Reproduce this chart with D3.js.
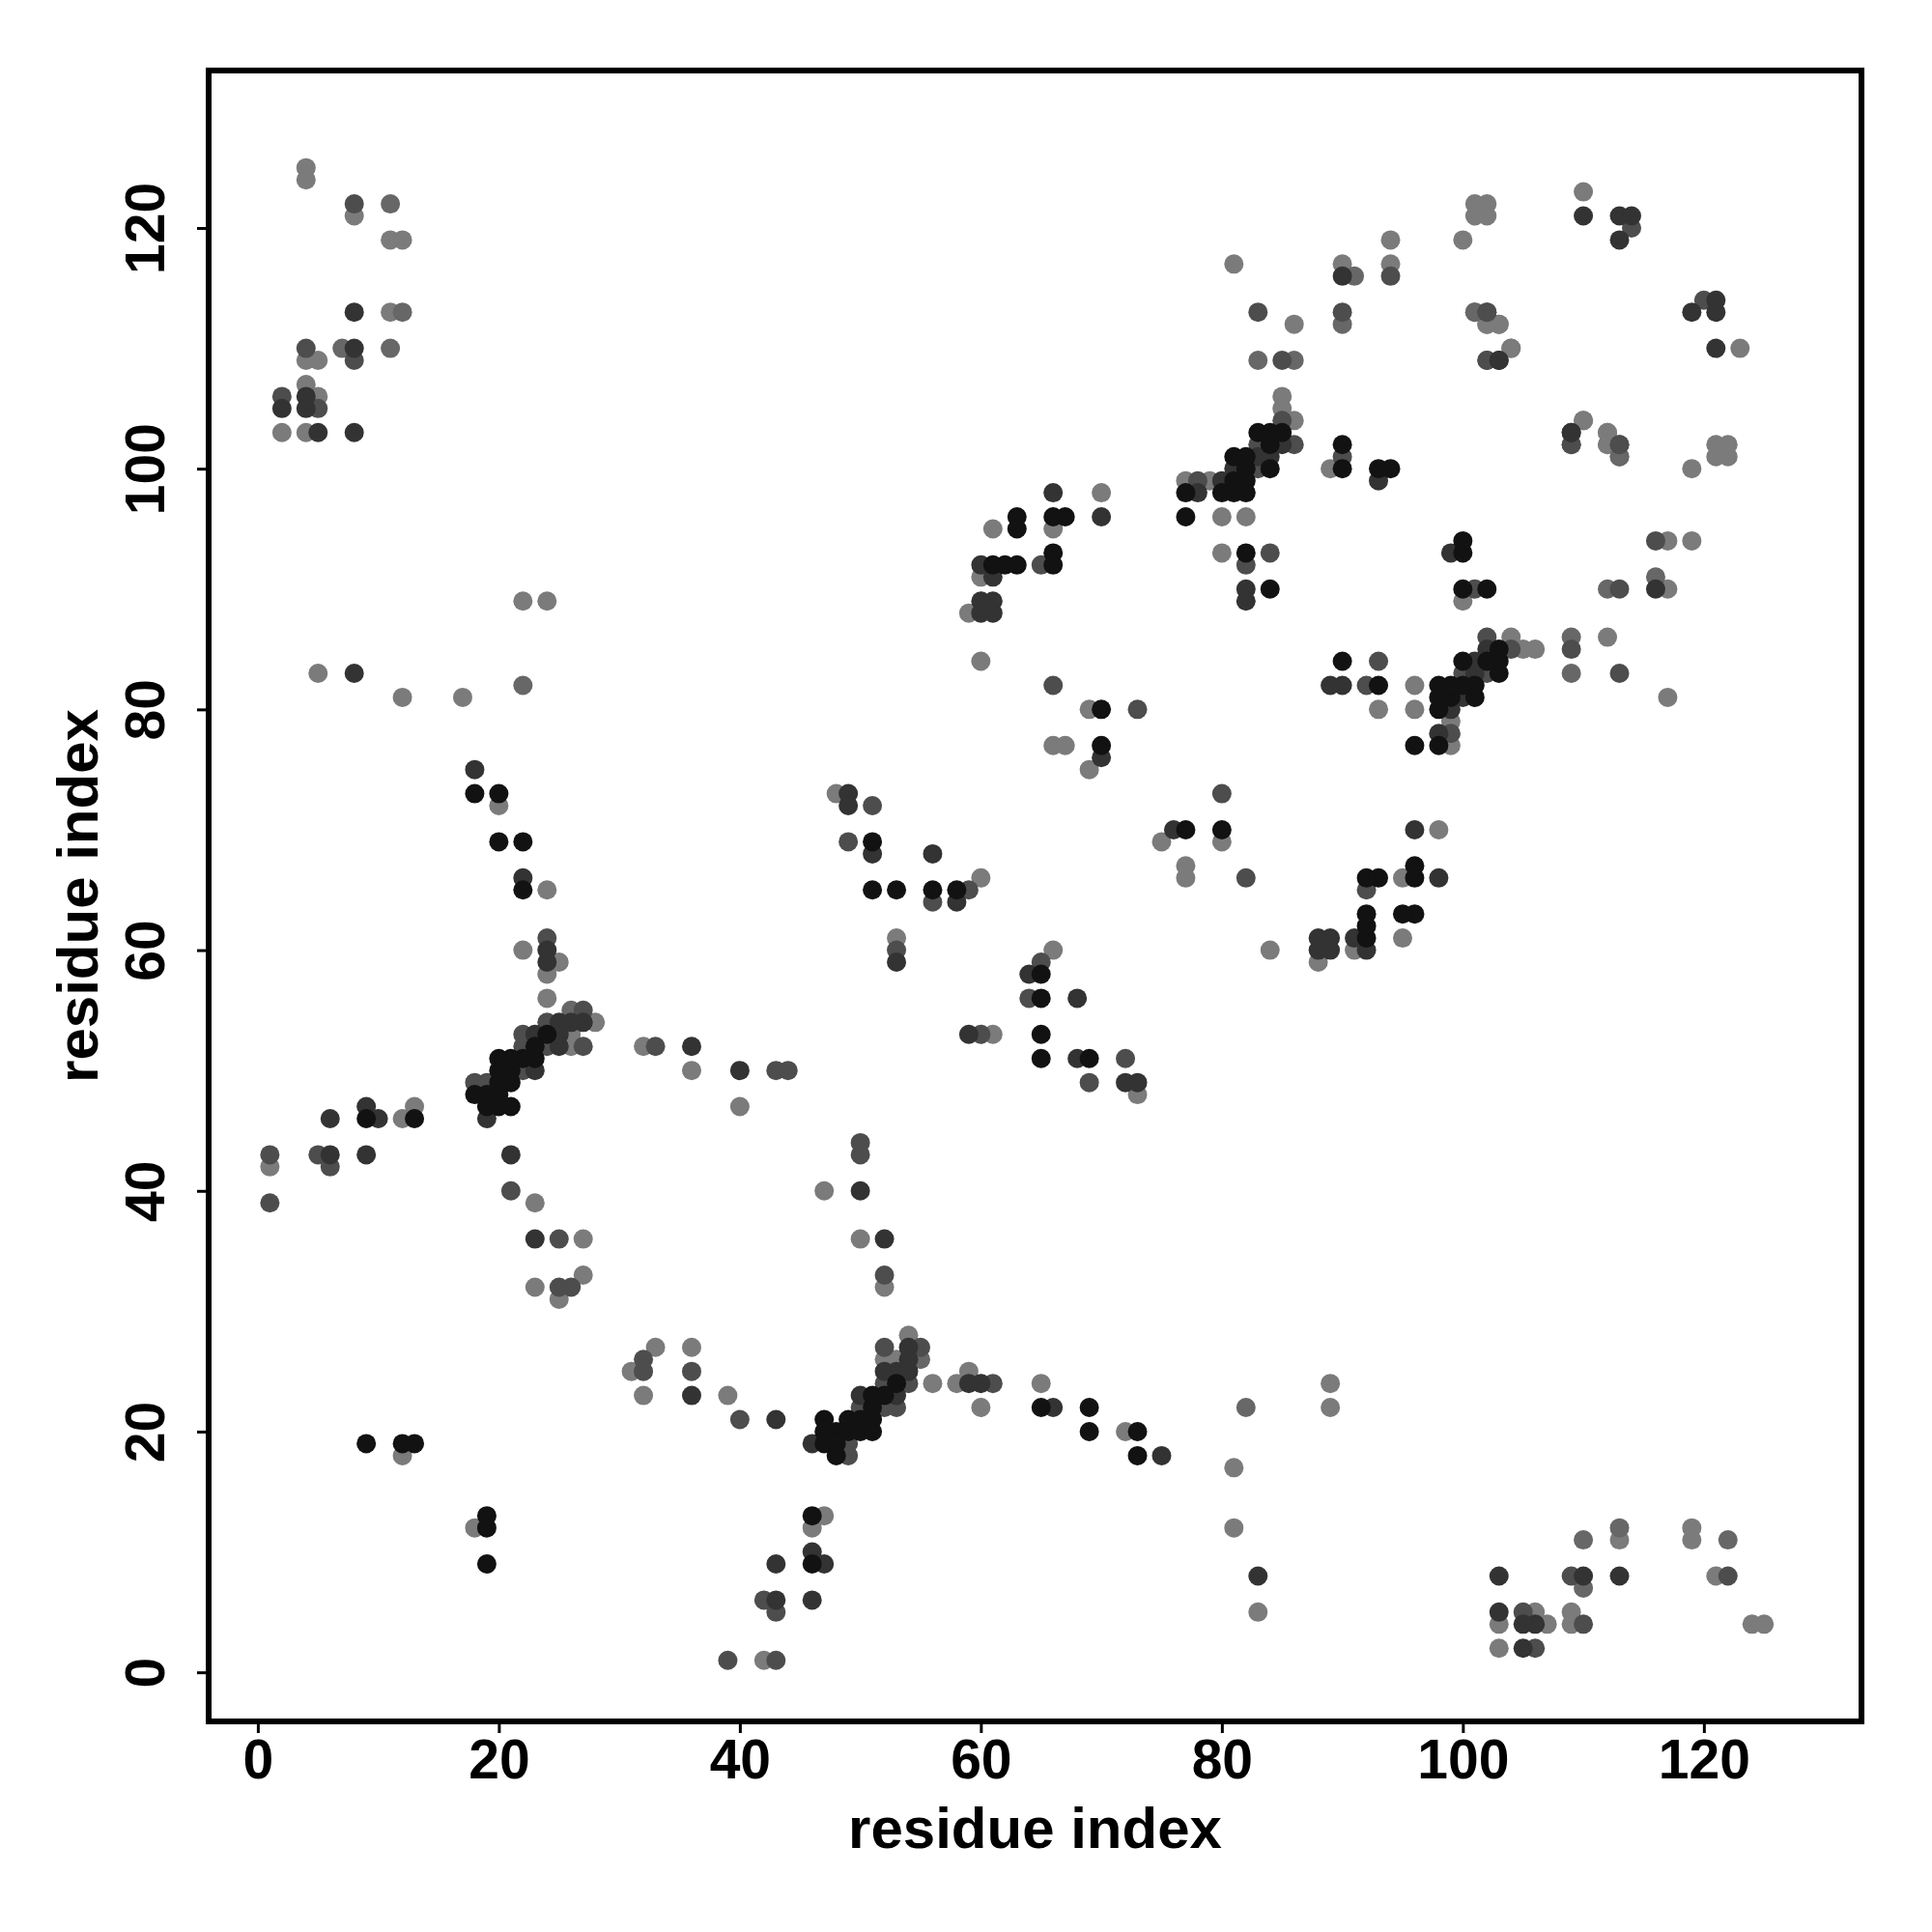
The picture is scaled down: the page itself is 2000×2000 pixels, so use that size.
<!DOCTYPE html>
<html>
<head>
<meta charset="utf-8">
<script src="https://cdn.jsdelivr.net/npm/d3@7/dist/d3.min.js"></script>
<style>
  html, body { margin: 0; padding: 0; background: #ffffff; }
  svg { display: block; }
</style>
</head>
<body>
<svg id="chart" width="2000" height="2000"></svg>
<script>
// ---- DATA: predicted residue contacts (i < j), drawn at (i,j) and (j,i) ----
// shade / probability levels (0 = light gray, 1 = black)
const residueI = [
  // top-left block
  4,4,8,8,11,11,12,8,11,12,4,4,5,7,8,8,11,4,2,4,5,2,4,5,2,4,5,8,
  // isolated 81-89
  5,8,12,17,22,22,24,
  // column 18-25
  18,18,20,20,20,22,22,22,24,24,22,24,25,24,24,24,
  // diagonal cluster 18-28 x 46-55
  28,27,27,27,26,26,26,26,25,25,25,24,24,24,23,23,23,23,22,22,22,22,21,21,21,21,20,20,20,20,20,19,19,19,19,18,18,
  // 1-27 x 18-47
  23,25,27,23,25,26,25,27,23,21,21,6,9,9,10,12,13,13,1,5,6,9,1,6,1,9,12,13,12,
  // 32-44 x 47-52
  32,33,36,36,40,43,44,40,
  // 48-60 x 59-73
  48,49,49,51,49,51,51,56,51,53,56,56,58,58,59,60,53,53,53,
  // 59-70 x 84-98
  66,70,63,66,67,70,61,63,66,66,65,66,60,61,62,63,60,61,60,61,59,60,61,60,
  // 66-73 x 75-82
  66,69,70,66,67,70,70,69,73,
  // diagonal cluster 77-86 x 96-106
  85,85,85,86,83,84,85,83,84,85,86,81,82,83,84,81,82,83,84,77,78,79,80,81,82,77,78,80,81,82,77,80,82,
  // 80-94 x 89-102
  82,80,84,82,82,84,82,90,90,90,89,93,94,93,
  // upper right
  81,90,90,91,94,94,94,100,101,102,101,102,83,86,90,90,101,102,102,103,104,102,103,83,85,86,110,110,113,114,114,113,110,109,109,112,112,113,113
];
const residueJ = [
  125,124,122,121,122,119,119,113,113,113,110,109,109,110,110,109,110,107,106,106,106,105,105,105,103,103,103,103,
  83,83,81,81,82,89,89,
  75,73,73,72,69,69,66,65,65,61,60,60,59,59,58,56,
  54,52,54,55,52,53,54,55,52,53,54,52,53,54,50,51,52,53,50,51,52,53,47,49,50,51,47,48,49,50,51,46,47,48,49,48,49,
  36,36,36,32,32,32,31,33,39,40,43,46,47,46,46,46,47,46,43,43,43,43,42,42,39,19,19,19,18,
  52,52,52,50,50,50,50,47,
  73,73,72,72,69,69,68,68,65,65,65,64,65,64,65,66,61,60,59,
  98,98,96,96,96,96,95,95,95,93,92,92,92,92,92,92,91,91,89,89,88,88,88,84,
  82,80,80,77,77,77,76,75,80,
  106,105,104,104,103,103,103,102,102,102,102,101,101,101,101,100,100,100,100,99,99,99,99,99,99,98,98,98,98,98,96,96,96,
  93,93,93,92,90,90,89,102,101,100,100,100,100,99,
  117,117,116,116,117,116,119,119,122,122,121,121,113,112,113,112,113,113,112,112,110,109,109,109,109,109,123,121,121,121,120,119,104,103,102,103,102,102,101
];
const contactProb = [
  .1,.1,.45,.1,.25,.1,.1,.65,.1,.25,.45,.1,.1,.25,.65,.45,.25,.1,.45,.65,.1,.65,.65,.45,.1,.1,.65,.65,
  .1,.65,.1,.1,.25,.1,.1,
  .65,.9,.9,.1,.9,.9,.65,.9,.1,.45,.1,.65,.1,.65,.1,.1,
  .1,.45,.65,.45,.1,.1,.65,.25,.65,.65,.65,.45,.9,.45,.65,.9,.9,.65,.45,.9,.45,.45,.9,.9,.9,.9,.9,.9,.9,.9,.9,.65,.9,.9,.45,.9,.45,
  .65,.45,.1,.1,.45,.45,.1,.1,.1,.45,.65,.65,.65,.9,.65,.1,.1,.9,.45,.45,.65,.65,.1,.45,.45,.9,.9,.9,.1,
  .1,.45,.65,.1,.65,.45,.45,.1,
  .1,.65,.65,.45,.45,.9,.65,.65,.9,.9,.9,.45,.9,.65,.45,.1,.1,.45,.65,
  .65,.1,.9,.9,.9,.65,.1,.9,.1,.9,.45,.9,.65,.9,.9,.9,.1,.65,.65,.65,.1,.65,.65,.1,
  .45,.1,.9,.1,.1,.9,.65,.1,.45,
  .1,.1,.45,.1,.9,.9,.9,.45,.9,.65,.45,.9,.9,.65,.65,.65,.9,.45,.9,.1,.45,.1,.65,.9,.9,.9,.65,.9,.9,.9,.9,.1,.1,
  .9,.1,.45,.45,.65,.9,.65,.9,.45,.9,.1,.9,.9,.65,
  .1,.1,.65,.25,.1,.45,.1,.1,.1,.1,.1,.1,.45,.1,.45,.25,.25,.45,.1,.1,.1,.45,.65,.25,.45,.25,.1,.65,.65,.65,.45,.65,.1,.65,.45,.1,.1,.45,.1
];
const xTickValues = [0, 20, 40, 60, 80, 100, 120];
const yTickValues = [0, 20, 40, 60, 80, 100, 120];
const xTitle = "residue index";
const yTitle = "residue index";

// ---- LAYOUT ----
const svg = d3.select("#chart");
const plotLeft = 216, plotRight = 1927, plotTop = 73, plotBottom = 1782;
const FONT = "'Liberation Sans', Arial, Helvetica, sans-serif";

const x = d3.scaleLinear().domain([-4.08, 133.08]).range([plotLeft, plotRight]);
const y = d3.scaleLinear().domain([-4.08, 133.08]).range([plotBottom, plotTop]);
const shade = d3.scaleLinear().domain([0, 1]).range(["#888888", "#050505"]);

// points: each contact drawn in both triangles
const pts = [];
residueI.forEach((ri, k) => {
  const rj = residueJ[k], p = contactProb[k];
  pts.push({ a: ri, b: rj, p });
  pts.push({ a: rj, b: ri, p });
});
pts.sort((u, v) => u.p - v.p);

svg.append("g")
  .selectAll("circle")
  .data(pts)
  .join("circle")
  .attr("cx", d => x(d.a))
  .attr("cy", d => y(d.b))
  .attr("r", 10)
  .attr("fill", d => shade(d.p));

// frame
svg.append("rect")
  .attr("x", plotLeft).attr("y", plotTop)
  .attr("width", plotRight - plotLeft).attr("height", plotBottom - plotTop)
  .attr("fill", "none").attr("stroke", "#000").attr("stroke-width", 6);

// axes
const xAxis = svg.append("g")
  .attr("transform", `translate(0,${plotBottom})`)
  .call(d3.axisBottom(x).tickValues(xTickValues).tickSize(12).tickFormat(d3.format("d")));
xAxis.select(".domain").remove();
xAxis.selectAll(".tick line").attr("stroke", "#000").attr("stroke-width", 3);
xAxis.selectAll(".tick text")
  .attr("y", 59).attr("dy", 0)
  .attr("font-family", FONT).attr("font-weight", "bold").attr("font-size", 57)
  .attr("fill", "#000");

const yAxis = svg.append("g")
  .attr("transform", `translate(${plotLeft},0)`)
  .call(d3.axisLeft(y).tickValues(yTickValues).tickSize(12).tickFormat(d3.format("d")));
yAxis.select(".domain").remove();
yAxis.selectAll(".tick line").attr("stroke", "#000").attr("stroke-width", 3);
yAxis.selectAll(".tick text")
  .attr("x", 0).attr("y", 0).attr("dy", 0)
  .attr("text-anchor", "middle")
  .attr("transform", "translate(-46,0) rotate(-90)")
  .attr("font-family", FONT).attr("font-weight", "bold").attr("font-size", 57)
  .attr("fill", "#000");

// titles
svg.append("text")
  .attr("x", (plotLeft + plotRight) / 2).attr("y", 1913)
  .attr("text-anchor", "middle")
  .attr("font-family", FONT).attr("font-weight", "bold").attr("font-size", 60)
  .text(xTitle);

svg.append("text")
  .attr("transform", `translate(101,${(plotTop + plotBottom) / 2}) rotate(-90)`)
  .attr("text-anchor", "middle")
  .attr("font-family", FONT).attr("font-weight", "bold").attr("font-size", 60)
  .text(yTitle);
</script>
</body>
</html>
